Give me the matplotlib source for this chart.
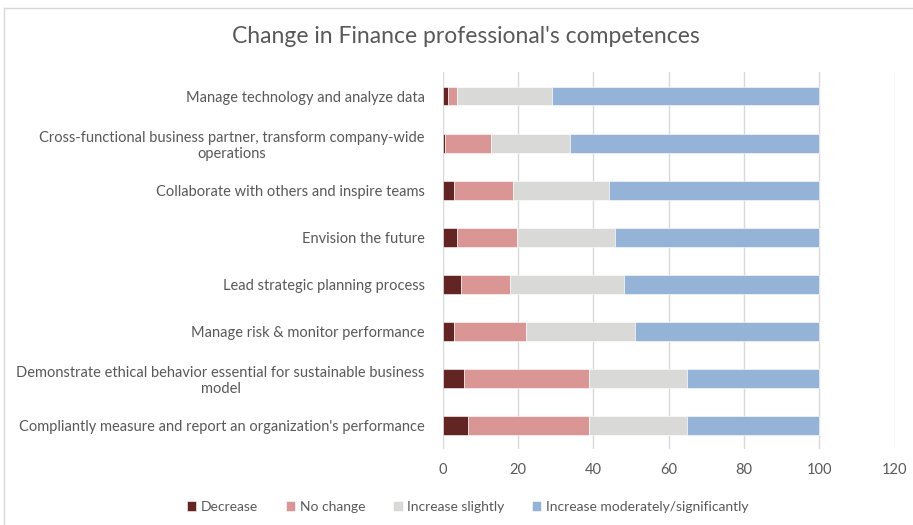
import matplotlib.pyplot as plt
import matplotlib.lines as mlines
import numpy as np

plt.rcParams['font.family'] = ['Lato', 'DejaVu Sans']

competences = [
    'Manage technology and analyze data',
    'Cross-functional business partner, transform company-wide\noperations',
    'Collaborate with others and inspire teams',
    'Envision the future',
    'Lead strategic planning process',
    'Manage risk & monitor performance',
    'Demonstrate ethical behavior essential for sustainable business\nmodel',
    "Compliantly measure and report an organization's performance",
]
decrease = [1.5, 0.5, 2.9, 3.8, 4.9, 3.0, 5.7, 6.7]
no_change = [2.2, 12.2, 15.8, 15.8, 12.9, 19.1, 33.1, 32.1]
increase_slightly = [25.3, 21.0, 25.3, 26.2, 30.3, 28.9, 26.1, 26.1]
increase_moderately = [71.0, 66.3, 56.0, 54.2, 51.9, 49.0, 35.1, 35.1]

series = [
    ('Decrease', decrease, '#632523'),
    ('No change', no_change, '#da9694'),
    ('Increase slightly', increase_slightly, '#d9d9d7'),
    ('Increase moderately/significantly', increase_moderately, '#95b3d7'),
]

fig = plt.figure(figsize=(9.13, 5.25), dpi=100)
ax = fig.add_axes([0.485, 0.144, 0.495, 0.718])

y = np.arange(len(competences))
left = np.zeros(len(competences))
for name, vals, color in series:
    ax.barh(y, vals, left=left, height=0.4, color=color, label=name,
            edgecolor='white', linewidth=0.4, zorder=3)
    left += np.array(vals)

ax.set_xlim(0, 120)
ax.set_ylim(len(competences) - 0.5, -0.5)
ax.set_xticks(np.arange(0, 121, 20))
ax.set_yticks(y)
ax.set_yticklabels(competences, multialignment='center')
ax.tick_params(axis='both', length=0, colors='#595959', labelsize=10.5)
ax.tick_params(axis='y', pad=13)
ax.tick_params(axis='x', pad=10)
ax.xaxis.grid(True, color='#d9d9d9', linewidth=1, zorder=0)
for s in ax.spines.values():
    s.set_visible(False)

fig.text(0.51, 0.93, "Change in Finance professional's competences",
         ha='center', va='center', fontsize=16.5, color='#595959')

handles, labels = ax.get_legend_handles_labels()
fig.legend(handles, labels, loc='center', bbox_to_anchor=(0.512, 0.034),
           ncol=4, frameon=False, fontsize=10, labelcolor='#595959',
           handlelength=0.7, handleheight=0.7, handletextpad=0.3,
           columnspacing=2.0)

# chart area border
fig.add_artist(mlines.Line2D([0.004, 0.004], [0, 0.985], color='#d9d9d9',
                             linewidth=1, transform=fig.transFigure))
fig.add_artist(mlines.Line2D([0.004, 1], [0.985, 0.985], color='#d9d9d9',
                             linewidth=1, transform=fig.transFigure))

fig.savefig('out.png', dpi=100)
